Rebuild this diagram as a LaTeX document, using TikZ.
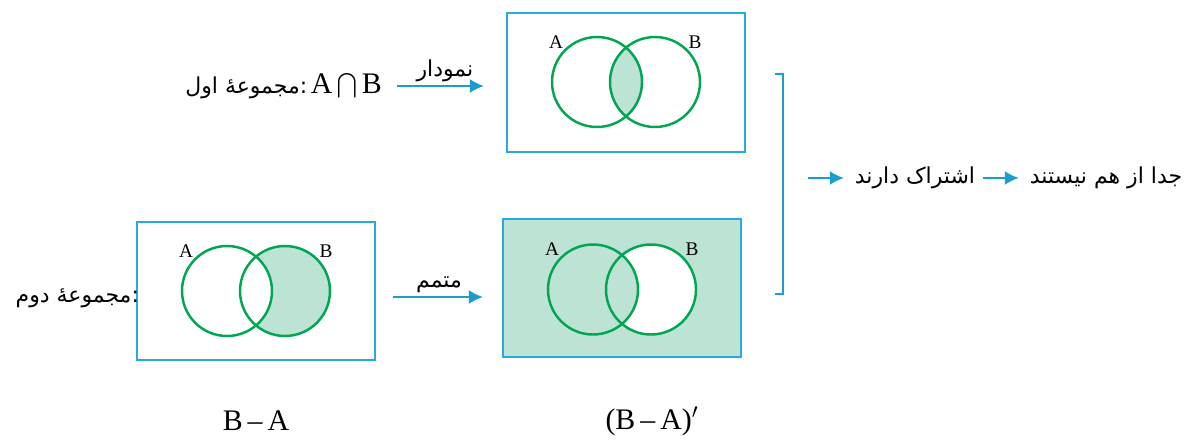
\documentclass[tikz,border=0pt]{standalone}
\usepackage{fontspec}
\setmainfont{Liberation Serif}
\newfontfamily\fa[Script=Arabic]{DejaVu Sans}
\TeXXeTstate=1
\usetikzlibrary{arrows.meta,positioning}
\definecolor{frameblue}{HTML}{27AAE1}
\definecolor{arrowblue}{HTML}{1B9DCF}
\definecolor{setgreen}{HTML}{00A651}
\definecolor{setfill}{HTML}{BDE3D4}
\newcommand{\fatext}[1]{{\fa\beginR #1\endR}}

\begin{document}
\begin{tikzpicture}[
  x=0.02cm, y=-0.02cm,
  box/.style={draw=frameblue, line width=1.3pt, minimum width=4.76cm,
              minimum height=2.77cm, inner sep=0pt},
  ring/.style={draw=setgreen, line width=1.4pt},
  lbl/.style={font=\fontsize{11}{13}\selectfont, inner sep=0pt},
  big/.style={font=\fontsize{17}{20}\selectfont, inner sep=0pt},
  txt/.style={font=\fontsize{12.5}{15}\fa, inner sep=1pt},
  ar/.style={draw=arrowblue, line width=1.1pt, -{Latex[length=2.8mm,width=2.8mm]}}]

\useasboundingbox (0,0) rectangle (1186,440);

% upper row: A cap B
\node[box] (inter) at (626,82.5) {};
\coordinate (iA) at (597,82);
\coordinate (iB) at (655,82);
\begin{scope}
  \clip (iA) circle[radius=45];
  \fill[setfill] (iB) circle[radius=45];
\end{scope}
\draw[ring] (iA) circle[radius=45] (iB) circle[radius=45];
\node[lbl] (iAl) at (556,42) {A};
\node[lbl] (iBl) at (695,42) {B};

\node[txt, anchor=east] (first) at (384,86)
  {\fatext{مجموعهٔ اول}:\,{\fontsize{17}{20}\rmfamily A\,$\displaystyle\bigcap$\,B}};
\draw[ar, shorten <=0.26cm, shorten >=0.44cm] (first.east) -- (first.east -| inter.west)
  node[txt, midway, above=1pt] {\fatext{نمودار}};

% lower row: B - A and its complement
\node[box] (diff) at (256,291) {};
\coordinate (dA) at (227,291);
\coordinate (dB) at (285,291);
\begin{scope}
  \clip (dB) circle[radius=45];
  \fill[setfill] (dB) circle[radius=45];
  \fill[white] (dA) circle[radius=45];
\end{scope}
\draw[ring] (dA) circle[radius=45] (dB) circle[radius=45];
\node[lbl] (dAl) at (186,251) {A};
\node[lbl] (dBl) at (326,251) {B};

\node[box, fill=setfill] (comp) at (622,288) {};
\coordinate (cA) at (593,289.5);
\coordinate (cB) at (651,289.5);
\fill[white] (cB) circle[radius=45];
\begin{scope}
  \clip (cB) circle[radius=45];
  \fill[setfill] (cA) circle[radius=45];
\end{scope}
\draw[ring] (cA) circle[radius=45] (cB) circle[radius=45];
\node[lbl] (cAl) at (552,249) {A};
\node[lbl] (cBl) at (692,249) {B};

\node[txt, anchor=east] (second) at (141,298) {\fatext{مجموعهٔ دوم}:};
\draw[ar, shorten <=0.34cm, shorten >=0.38cm]
  ([yshift=-0.12cm]diff.east) -- ([yshift=-0.12cm]diff.east -| comp.west)
  node[txt, midway, above=1pt] {\fatext{متمم}};

\node[big] (dname) at (256,421) {B\,–\,A};
\node[big] (cname) at (652,421) {(B\,–\,A)$'$};

% right: bracket and conclusion
\coordinate (btop) at (783,74);
\coordinate (bbot) at (783,294);
\coordinate (bmid) at (783,178);
\draw[arrowblue, line width=1.1pt] ([xshift=-0.16cm]btop) -- (btop) -- (bbot) -- ([xshift=-0.16cm]bbot);

\node[txt] (shared) at (915,178) {\fatext{اشتراک دارند}};
\node[txt] (apart) at (1106,178) {\fatext{جدا از هم نیستند}};
\draw[ar, shorten <=0.5cm, shorten >=0.18cm] (bmid) -- (shared.west);
\draw[ar, shorten <=0.12cm, shorten >=0.18cm] (shared.east) -- (apart.west);
\end{tikzpicture}
\end{document}
